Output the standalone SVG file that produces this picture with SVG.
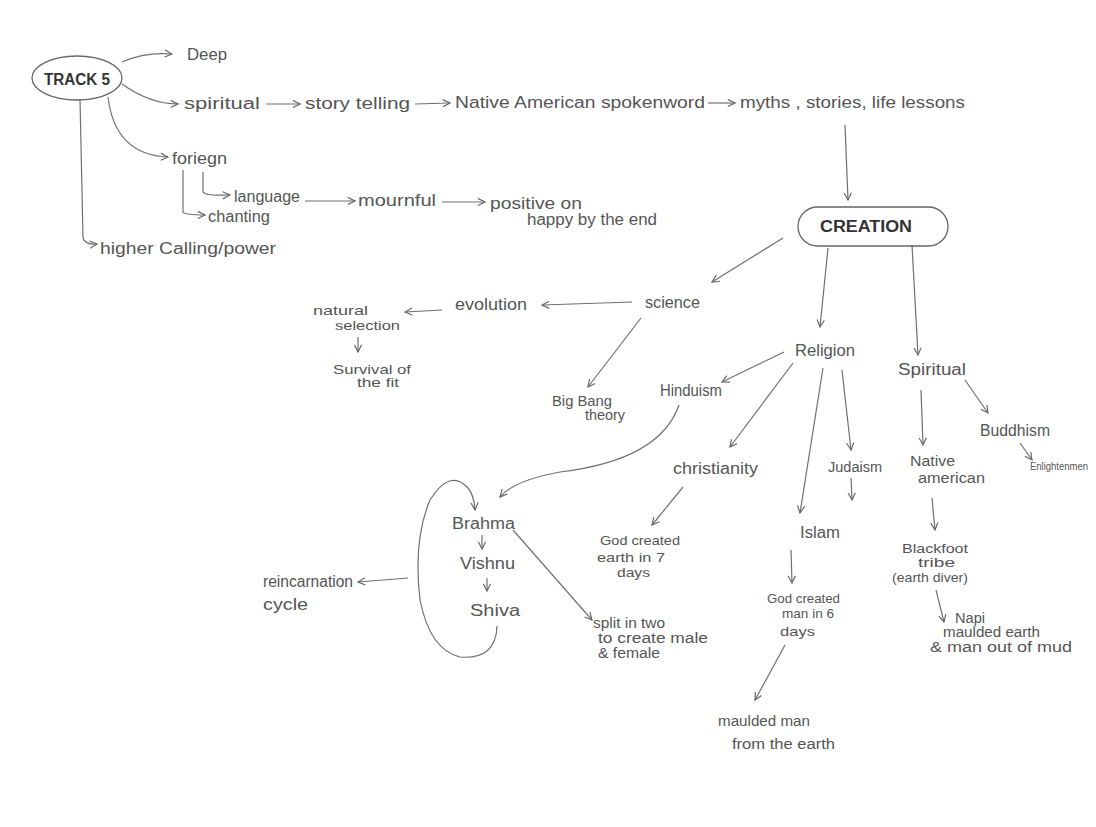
<svg xmlns="http://www.w3.org/2000/svg" width="1096" height="827" viewBox="0 0 1096 827">
<defs>
<marker id="ah" viewBox="0 0 10 10" refX="9" refY="5" markerWidth="9" markerHeight="9" markerUnits="userSpaceOnUse" orient="auto">
<path d="M1,1 L9,5 L1,9" fill="none" stroke="#666" stroke-width="1.3"/>
</marker>
</defs>
<style>
text{font-family:"Liberation Sans","DejaVu Sans",sans-serif;fill:#555;font-size:16px}
.s{font-size:14px}
.xs{font-size:13px}
.t{font-size:10px}
.b{font-weight:bold;fill:#333}
.c path,.c line{fill:none;stroke:#707070;stroke-width:1.2;marker-end:url(#ah)}
.o{fill:none;stroke:#666;stroke-width:1.3}
</style>
<rect width="1096" height="827" fill="#fff"/>

<g id="connectors" class="c">
<path d="M122,62 Q145,52 172,54"/>
<path d="M122,84 Q150,104 178,104"/>
<line x1="266" y1="104" x2="300" y2="104"/>
<line x1="415" y1="104" x2="450" y2="103"/>
<line x1="708" y1="103" x2="735" y2="103"/>
<line x1="845" y1="125" x2="848" y2="200"/>
<path d="M108,97 Q115,155 168,157"/>
<path d="M203,172 L203,192 Q205,196 230,195"/>
<path d="M183,170 L183,212 Q185,215 205,215"/>
<line x1="305" y1="201" x2="355" y2="201"/>
<line x1="442" y1="202" x2="485" y2="202"/>
<path d="M80,99 L83,238 Q85,245 97,244"/>
<line x1="783" y1="238" x2="712" y2="282"/>
<line x1="828" y1="248" x2="820" y2="327"/>
<line x1="912" y1="245" x2="918" y2="355"/>
<line x1="632" y1="302" x2="542" y2="305"/>
<line x1="442" y1="310" x2="405" y2="312"/>
<line x1="358" y1="337" x2="358" y2="352"/>
<line x1="641" y1="318" x2="588" y2="387"/>
<line x1="784" y1="352" x2="722" y2="382"/>
<line x1="793" y1="363" x2="730" y2="447"/>
<line x1="823" y1="368" x2="800" y2="513"/>
<line x1="842" y1="370" x2="851" y2="450"/>
<line x1="851" y1="478" x2="852" y2="500"/>
<line x1="921" y1="390" x2="923" y2="445"/>
<line x1="965" y1="380" x2="988" y2="413"/>
<line x1="1020" y1="443" x2="1032" y2="460"/>
<path d="M679,405 Q660,460 560,472 Q515,480 500,497"/>
<line x1="482" y1="535" x2="482" y2="549"/>
<line x1="487" y1="578" x2="487" y2="591"/>
<path d="M497,626 Q496,660 460,657 Q430,650 420,600 Q413,540 430,500 Q450,468 468,488 Q474,495 475,510"/>
<path d="M408,578 Q382,580 358,582"/>
<line x1="513" y1="530" x2="592" y2="620"/>
<line x1="683" y1="487" x2="652" y2="525"/>
<line x1="791" y1="550" x2="792" y2="583"/>
<line x1="785" y1="645" x2="755" y2="700"/>
<line x1="932" y1="498" x2="935" y2="530"/>
<line x1="936" y1="590" x2="944" y2="622"/>
</g>

<g id="track5"><ellipse class="o" cx="77" cy="78" rx="45" ry="22"/><text class="b" x="77" y="85" font-size="19" text-anchor="middle" textLength="66" lengthAdjust="spacingAndGlyphs">TRACK 5</text></g>
<g id="deep"><text x="187" y="60" textLength="40" lengthAdjust="spacingAndGlyphs">Deep</text></g>
<g id="spiritual1"><text x="184" y="109" textLength="76" lengthAdjust="spacingAndGlyphs">spiritual</text></g>
<g id="storytelling"><text x="305" y="109" textLength="105" lengthAdjust="spacingAndGlyphs">story telling</text></g>
<g id="nativespoken"><text x="455" y="108" textLength="250" lengthAdjust="spacingAndGlyphs">Native American spokenword</text></g>
<g id="myths"><text x="740" y="108" textLength="225" lengthAdjust="spacingAndGlyphs">myths , stories, life lessons</text></g>
<g id="foriegn"><text x="172" y="164" textLength="55" lengthAdjust="spacingAndGlyphs">foriegn</text></g>
<g id="language"><text x="234" y="202" textLength="66" lengthAdjust="spacingAndGlyphs">language</text></g>
<g id="chanting"><text x="208" y="222" textLength="62" lengthAdjust="spacingAndGlyphs">chanting</text></g>
<g id="mournful"><text x="358" y="206" textLength="78" lengthAdjust="spacingAndGlyphs">mournful</text></g>
<g id="positive"><text x="490" y="209" textLength="92" lengthAdjust="spacingAndGlyphs">positive on</text><text x="527" y="225" textLength="130" lengthAdjust="spacingAndGlyphs">happy by the end</text></g>
<g id="higher"><text x="100" y="254" textLength="176" lengthAdjust="spacingAndGlyphs">higher Calling/power</text></g>
<g id="creation"><rect class="o" x="798" y="207" width="150" height="39" rx="19.5"/><text class="b" x="866" y="232" font-size="16" text-anchor="middle" textLength="92" lengthAdjust="spacingAndGlyphs">CREATION</text></g>
<g id="science"><text x="645" y="308" textLength="55" lengthAdjust="spacingAndGlyphs">science</text></g>
<g id="evolution"><text x="455" y="310" textLength="72" lengthAdjust="spacingAndGlyphs">evolution</text></g>
<g id="natural"><text class="xs" x="313" y="315" textLength="55" lengthAdjust="spacingAndGlyphs">natural</text><text class="xs" x="335" y="330" textLength="65" lengthAdjust="spacingAndGlyphs">selection</text></g>
<g id="survival"><text class="xs" x="333" y="374" textLength="78" lengthAdjust="spacingAndGlyphs">Survival of</text><text class="xs" x="357" y="387" textLength="42" lengthAdjust="spacingAndGlyphs">the fit</text></g>
<g id="bigbang"><text class="s" x="552" y="406" textLength="60" lengthAdjust="spacingAndGlyphs">Big Bang</text><text class="s" x="585" y="420" textLength="40" lengthAdjust="spacingAndGlyphs">theory</text></g>
<g id="religion"><text x="795" y="356" textLength="60" lengthAdjust="spacingAndGlyphs">Religion</text></g>
<g id="spiritual2"><text x="898" y="375" textLength="68" lengthAdjust="spacingAndGlyphs">Spiritual</text></g>
<g id="hinduism"><text x="660" y="396" textLength="62" lengthAdjust="spacingAndGlyphs">Hinduism</text></g>
<g id="christianity"><text x="673" y="474" textLength="85" lengthAdjust="spacingAndGlyphs">christianity</text></g>
<g id="judaism"><text class="s" x="828" y="472" textLength="54" lengthAdjust="spacingAndGlyphs">Judaism</text></g>
<g id="islam"><text x="800" y="538" textLength="40" lengthAdjust="spacingAndGlyphs">Islam</text></g>
<g id="nativeamerican"><text class="s" x="910" y="466" textLength="45" lengthAdjust="spacingAndGlyphs">Native</text><text class="s" x="918" y="483" textLength="67" lengthAdjust="spacingAndGlyphs">american</text></g>
<g id="buddhism"><text x="980" y="436" textLength="70" lengthAdjust="spacingAndGlyphs">Buddhism</text></g>
<g id="enlightenment"><text class="t" x="1030" y="470" textLength="58" lengthAdjust="spacingAndGlyphs">Enlightenmen</text></g>
<g id="brahma"><text x="452" y="529" textLength="63" lengthAdjust="spacingAndGlyphs">Brahma</text></g>
<g id="vishnu"><text x="460" y="569" textLength="55" lengthAdjust="spacingAndGlyphs">Vishnu</text></g>
<g id="shiva"><text x="470" y="616" textLength="50" lengthAdjust="spacingAndGlyphs">Shiva</text></g>
<g id="reincarnation"><text x="263" y="587" textLength="90" lengthAdjust="spacingAndGlyphs">reincarnation</text><text x="263" y="610" textLength="45" lengthAdjust="spacingAndGlyphs">cycle</text></g>
<g id="split"><text class="s" x="593" y="628" textLength="72" lengthAdjust="spacingAndGlyphs">split in two</text><text class="s" x="598" y="643" textLength="110" lengthAdjust="spacingAndGlyphs">to create male</text><text class="s" x="598" y="658" textLength="62" lengthAdjust="spacingAndGlyphs">&amp; female</text></g>
<g id="godearth"><text class="xs" x="600" y="545" textLength="80" lengthAdjust="spacingAndGlyphs">God created</text><text class="xs" x="597" y="562" textLength="68" lengthAdjust="spacingAndGlyphs">earth in 7</text><text class="xs" x="617" y="577" textLength="33" lengthAdjust="spacingAndGlyphs">days</text></g>
<g id="godman"><text class="xs" x="767" y="603" textLength="73" lengthAdjust="spacingAndGlyphs">God created</text><text class="xs" x="782" y="618" textLength="52" lengthAdjust="spacingAndGlyphs">man in 6</text><text class="xs" x="780" y="636" textLength="35" lengthAdjust="spacingAndGlyphs">days</text></g>
<g id="mauldedman"><text class="s" x="718" y="726" textLength="92" lengthAdjust="spacingAndGlyphs">maulded man</text><text class="s" x="732" y="749" textLength="103" lengthAdjust="spacingAndGlyphs">from the earth</text></g>
<g id="blackfoot"><text class="xs" x="902" y="553" textLength="66" lengthAdjust="spacingAndGlyphs">Blackfoot</text><text class="xs" x="918" y="567" textLength="37" lengthAdjust="spacingAndGlyphs">tribe</text><text class="xs" x="892" y="582" textLength="76" lengthAdjust="spacingAndGlyphs">(earth diver)</text></g>
<g id="napi"><text class="s" x="955" y="623" textLength="30" lengthAdjust="spacingAndGlyphs">Napi</text><text class="s" x="943" y="637" textLength="97" lengthAdjust="spacingAndGlyphs">maulded earth</text><text class="s" x="930" y="652" textLength="142" lengthAdjust="spacingAndGlyphs">&amp; man out of mud</text></g>
</svg>
